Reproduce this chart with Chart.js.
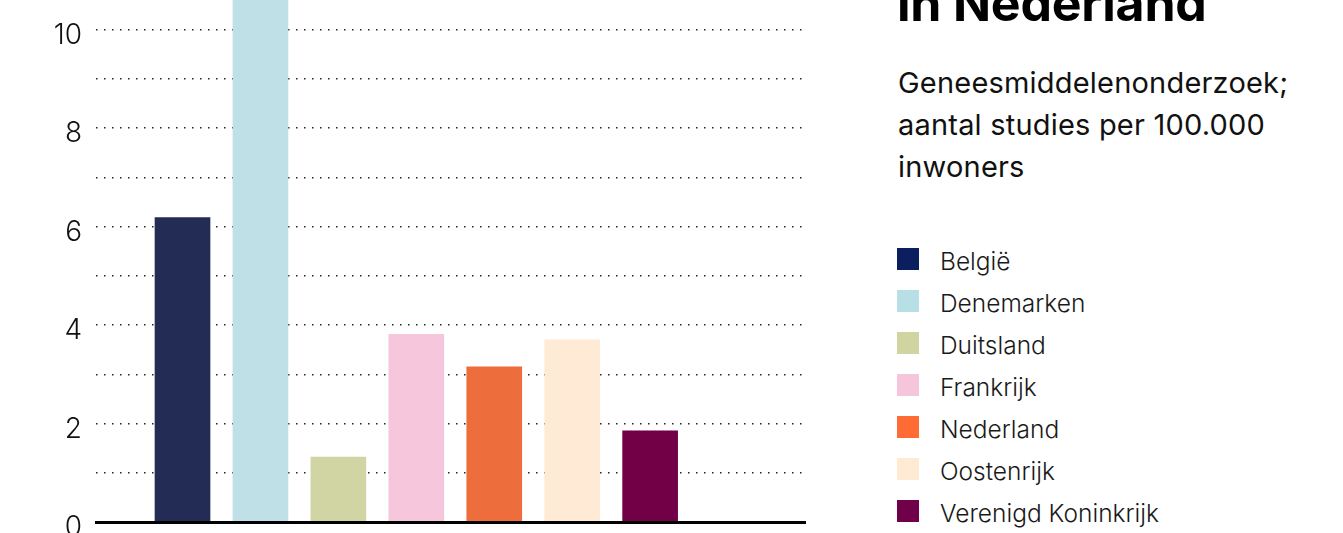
<!DOCTYPE html>
<html lang="nl">
<head>
<meta charset="utf-8">
<script src="https://cdn.jsdelivr.net/npm/chart.js@4.4.1/dist/chart.umd.min.js"></script>
<style>
  html, body { margin: 0; padding: 0; background: #fff; }
  body { width: 1343px; height: 533px; overflow: hidden; position: relative; font-family: Inter, "Noto Sans", sans-serif; }
  #chart { position: absolute; left: 0; top: -109px; }
  #title { position: absolute; left: 897px; top: -22px; font-size: 50px; line-height: 50px; font-weight: 700; color: #000; white-space: nowrap; letter-spacing: -0.2px; }
  #subtitle { position: absolute; left: 898px; top: 62px; width: 440px; font-size: 29px; line-height: 42px; font-weight: 400; color: #111; letter-spacing: 0.2px; white-space: nowrap; }
  #legend { position: absolute; left: 897px; top: 248px; }
  .row { position: relative; height: 42px; }
  .sw { position: absolute; left: 0; top: 0; width: 22px; height: 22px; }
  .lab { position: absolute; left: 43px; top: 2px; font-size: 24.5px; line-height: 22px; font-weight: 300; color: #1a1a1a; white-space: nowrap; }
</style>
</head>
<body>
<canvas id="chart" width="806" height="671"></canvas>
<div id="title">in Nederland</div>
<div id="subtitle">Geneesmiddelenonderzoek;<br>aantal studies per 100.000<br>inwoners</div>
<div id="legend"></div>
<script>
const categories = ['België', 'Denemarken', 'Duitsland', 'Frankrijk', 'Nederland', 'Oostenrijk', 'Verenigd Koninkrijk'];
const values = [6.18, 11.8, 1.32, 3.81, 3.15, 3.70, 1.85];
const barColors = ['#232c55', '#bee0e6', '#d1d4a3', '#f5c6dc', '#ee6d3c', '#ffead5', '#720047'];
const legendColors = ['#0b1f5f', '#b9dfe6', '#cfd4a1', '#f5c5dc', '#ff6b35', '#ffead4', '#71004a'];
const yTickLabels = [0, 2, 4, 6, 8, 10, 12];

// HTML legend
const legend = document.getElementById('legend');
categories.forEach((c, i) => {
  const row = document.createElement('div');
  row.className = 'row';
  const sw = document.createElement('div');
  sw.className = 'sw';
  sw.style.background = legendColors[i];
  const lab = document.createElement('div');
  lab.className = 'lab';
  lab.textContent = c;
  row.appendChild(sw);
  row.appendChild(lab);
  legend.appendChild(row);
});

new Chart(document.getElementById('chart'), {
  type: 'bar',
  data: {
    datasets: [{
      label: 'Aantal studies per 100.000 inwoners',
      data: values.map((v, i) => ({ x: i, y: v })),
      backgroundColor: barColors,
      borderWidth: 0,
      barThickness: 55
    }]
  },
  options: {
    responsive: false,
    animation: false,
    devicePixelRatio: 1,
    layout: { padding: { top: 40, bottom: 40, left: 0, right: 0 } },
    plugins: { legend: { display: false }, tooltip: { enabled: false }, title: { display: false } },
    scales: {
      x: {
        type: 'linear',
        min: -1.11,
        max: 8.0,
        offset: false,
        ticks: { display: false },
        grid: { display: false, drawTicks: false },
        border: { display: true, color: '#000', width: 3, z: 1 }
      },
      y: {
        min: 0,
        max: 12,
        afterFit: (s) => { s.width = 96; },
        ticks: {
          stepSize: 1,
          padding: 14,
          labelOffset: 6,
          color: '#111',
          font: { family: 'Inter', size: 28, weight: 300 },
          callback: (v) => yTickLabels.includes(v) ? String(v) : ''
        },
        grid: { color: '#222', lineWidth: 1.5, drawTicks: false },
        border: { display: false, dash: [1.5, 6.5] }
      }
    }
  }
});
</script>
</body>
</html>
